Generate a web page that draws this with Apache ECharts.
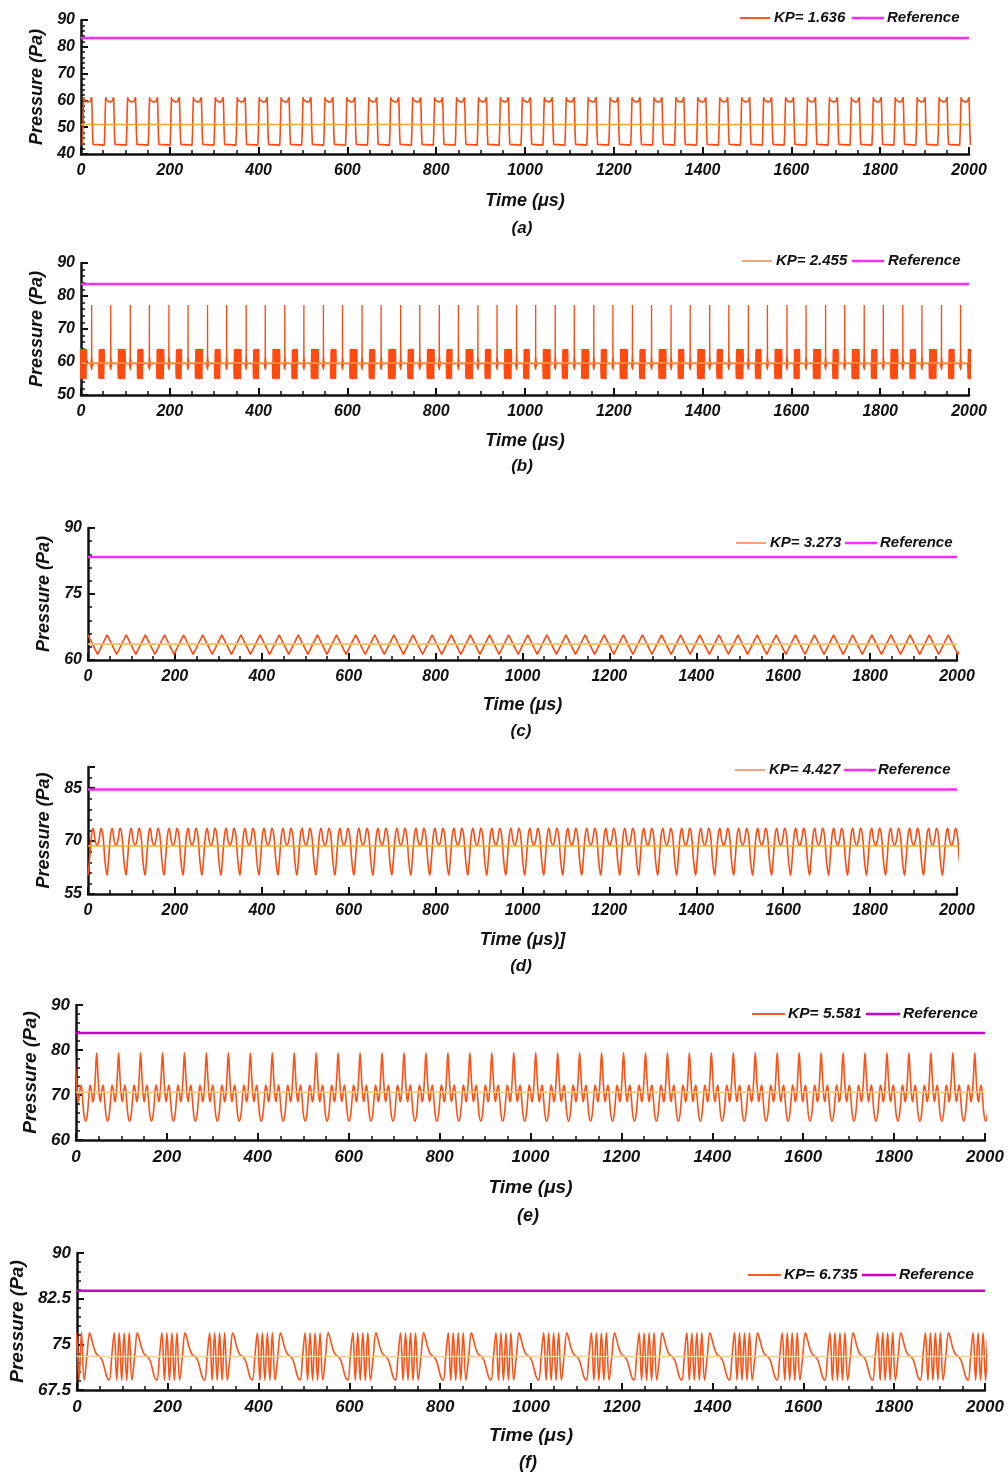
<!DOCTYPE html>
<html><head><meta charset="utf-8">
<script src="https://cdn.jsdelivr.net/npm/echarts@6/dist/echarts.min.js"></script>
<style>html,body{margin:0;padding:0;background:#fff}#c{width:1008px;height:1474px}</style>
</head><body><div id="c"></div>
<script>
// ---------------- DATA ----------------
const kpLabels   = ['KP= 1.636','KP= 2.455','KP= 3.273','KP= 4.427','KP= 5.581','KP= 6.735'];
const refLabel   = 'Reference';
const panelTags  = ['(a)','(b)','(c)','(d)','(e)','(f)'];
const xNames     = ['Time (μs)','Time (μs)','Time (μs)','Time (μs)]','Time (μs)','Time (μs)'];
const refLevels  = [83.3, 83.6, 83.4, 84.6, 83.8, 83.8];
const meanLevels = [51.0, 59.7, 63.6, 68.6, 70.6, 73.0];
const yMins      = [40, 50, 60, 55, 60, 67.5];
const yMaxs      = [90, 90, 90, 91, 90, 90];
const yIntervals = [10, 10, 15, 15, 10, 7.5];
const cyclePeriods = [49.4, 87.0, 44.0, 43.7, 48.3, 105.1];   // µs
const cycleStarts  = [3.0, -4.0, 0.0, 0.0, -2.8, -34.1];      // µs, time of first cycle start

// one read-off cycle of each waveform: [time within cycle (µs), pressure (Pa)]
const cycleA = [[0,43.4],[1.2,48],[2.2,56],[3.2,61.2],[4.5,60.2],[7,59.6],[12,59.4],[17,59.6],[19.8,60.2],[21,61.2],[22,56],[23,48],[24.2,43.6],[26,43.3],[49.4,43.3]];
const blockWideB   = [59.5,55,63.9,54.8,63.8,55,64,54.9,63.9,54.8,63.9,55,63.8,54.8,64,54.9,63.9,55,63.8,54.9,63.9,54.8,63.9,59.5];
const blockNarrowB = [59.5,55,63.8,54.8,63.9,55,64,54.9,63.8,54.8,63.9,55,63.8,54.9,64,54.8,63.9,59.5];
const spikeB = [[-2,59.6],[-1.2,58.2],[-0.7,61.2],[-0.3,57.8],[0,77.3],[0.3,57.6],[0.7,61.4],[1.2,58.4],[2,60.2],[3,59.5]];
const blockTimesB = [[0,17],[43.5,57]];      // start,end of the dense blocks inside one cycle
const spikeTimesB = [28, 71];
const cycleC = [[0,65.7],[22,61.3],[44,65.7]];
const cycleD = [[0,60.3],[3.5,64.5],[8,71.5],[12,73.6],[16.5,70.2],[21,68.8],[25.5,70.4],[30,73.6],[34.5,71.5],[39,64.5],[43.7,60.3]];
const cycleE = [[0,79.4],[3,74],[6,69.6],[8,68.5],[11,70.8],[14,72.2],[17,69.5],[20.5,65.5],[24,64.2],[27.5,65.5],[31,69.5],[34,72.2],[37,70.8],[40,68.5],[42.3,69.6],[45.3,74],[48.3,79.4]];
const cycleF = [[0,69.1],[5.5,73],[11,76.9],[16.5,69.1],[22,76.9],[27.5,69.1],[33,76.9],[38.5,69.1],[44,76.9],[50,69.1],[56,73],[62,76.9],[66,76],[71,74.5],[77,73.4],[84,73],[90,72.3],[95,71],[100,69.6],[105.1,69.1]];

// ---------------- build ----------------
const X_MAX = 2000;
function buildCycleB(){
  const pts = [];
  const pushBlock = (vals, t0, t1) => { const st=(t1-t0)/(vals.length-1); vals.forEach((v,i)=>pts.push([t0+i*st, v])); };
  pushBlock(blockWideB, blockTimesB[0][0], blockTimesB[0][1]);
  spikeB.forEach(p=>pts.push([spikeTimesB[0]+p[0], p[1]]));
  pushBlock(blockNarrowB, blockTimesB[1][0], blockTimesB[1][1]);
  spikeB.forEach(p=>pts.push([spikeTimesB[1]+p[0], p[1]]));
  pts.push([cyclePeriods[1], 59.5]);
  return pts;
}
const cycles = [cycleA, buildCycleB(), cycleC, cycleD, cycleE, cycleF];
function tile(cyc, P, start){
  const out=[];
  for(let k=0; start+k*P <= X_MAX+P; k++){
    cyc.forEach((p,i)=>{ if(k>0 && i===0) return; out.push([start+k*P+p[0], p[1]]); });
  }
  return out;
}

// ---------------- layout ----------------
const F = "'Liberation Sans',Arial,sans-serif";
const grids = [
  {left:81, top:20,  width:888, height:134},
  {left:81, top:263, width:888, height:132},
  {left:88, top:528, width:869, height:132},
  {left:88, top:767, width:869, height:127},
  {left:76, top:1005,width:909, height:135},
  {left:76, top:1253,width:909, height:137}
];
const small = [true,true,true,true,false,false];
const yNameGap = [32,32,31,31,32,47];
const xNameGap = [38,37,36,37,38,36];
// legend layout: [waveLineX1, waveLineX2, kpTextX, refLineX1, refLineX2, refTextX, y]
const legendLayout = [
  [740,770,774,852,884,887,18],
  [742,772,776,852,884,888,261],
  [736,766,770,845,877,880,543],
  [735,765,769,844,876,878,770],
  [752,785,788,866,900,903,1014],
  [748,781,784,862,896,899,1275]
];
const waveColor = ['#ff4a12','#ff4a12','#ff4a12','#ff4a12','#ff5015','#ff5015'];
const legWaveColor = ['#ff5a20','#f7a27a','#f7a27a','#f7a27a','#ff5a20','#ff5a20'];
const refColor = ['#ff2cff','#ff2cff','#ff2cff','#ff2cff','#cc00cc','#cc00cc'];
const meanColor = ['#f0a832','#f59a45','#f5c060','#f0b030','#f7c670','#f5d090'];
const tagPos = [[522,228],[522,466],[521,731],[521,966],[528,1216],[528,1463]];

const txt = (size)=>({fontFamily:F, fontStyle:'italic', fontWeight:'bold', fontSize:size, color:'#111'});
const xAxis=[], yAxis=[], series=[], graphic=[];
for(let i=0;i<6;i++){
  const ls = small[i]?16:17, ns = small[i]?18:19;
  xAxis.push({type:'value', gridIndex:i, min:0, max:X_MAX, interval:200,
    name:xNames[i], nameLocation:'middle', nameGap:xNameGap[i], nameTextStyle:txt(ns),
    axisLine:{lineStyle:{color:'#111', width:2.5}},
    axisTick:{inside:true, length:7, lineStyle:{color:'#111', width:2}},
    minorTick:{show:true, splitNumber:4, length:4, lineStyle:{color:'#111', width:1.5}},
    splitLine:{show:false}, axisLabel:Object.assign({margin:9, formatter:v=>String(v)}, txt(ls))});
  yAxis.push({type:'value', gridIndex:i, min:yMins[i], max:yMaxs[i], interval:yIntervals[i],
    name:'Pressure (Pa)', nameLocation:'middle', nameGap:yNameGap[i], nameRotate:90, nameTextStyle:txt(ns),
    axisLine:{show:true, lineStyle:{color:'#111', width:2.5}},
    axisTick:{show:true, inside:true, length:7, lineStyle:{color:'#111', width:2}},
    minorTick:{show:true, splitNumber:5, length:4, lineStyle:{color:'#111', width:1.5}},
    splitLine:{show:false}, axisLabel:Object.assign({margin:6, showMaxLabel: i===3?false:true, formatter:v=>String(v)}, txt(ls))});
  series.push({name:kpLabels[i], type:'line', xAxisIndex:i, yAxisIndex:i, symbol:'none',
    smooth: (i>=3)?0.4:false, data: tile(cycles[i], cyclePeriods[i], cycleStarts[i]),
    lineStyle:{color:waveColor[i], width:(i===1)?1.3:1.6}, z:3});
  series.push({name:'mean'+i, type:'line', xAxisIndex:i, yAxisIndex:i, symbol:'none',
    data:[[0,meanLevels[i]],[X_MAX,meanLevels[i]]], lineStyle:{color:meanColor[i], width:1.6}, z:4, silent:true});
  series.push({name:refLabel+i, type:'line', xAxisIndex:i, yAxisIndex:i, symbol:'none',
    data:[[0,refLevels[i]],[X_MAX,refLevels[i]]], lineStyle:{color:refColor[i], width:2.5}, z:5});
  // legend (drawn as graphic)
  const L = legendLayout[i], fs = small[i]?15:15.5;
  const font = `italic bold ${fs}px ${F}`;
  graphic.push({type:'line', shape:{x1:L[0],y1:L[6],x2:L[1],y2:L[6]}, style:{stroke:legWaveColor[i], lineWidth:2}});
  graphic.push({type:'text', x:L[2], y:L[6], style:{text:kpLabels[i], verticalAlign:'middle', fill:'#111', font}});
  graphic.push({type:'line', shape:{x1:L[3],y1:L[6],x2:L[4],y2:L[6]}, style:{stroke:refColor[i], lineWidth:2.5}});
  graphic.push({type:'text', x:L[5], y:L[6], style:{text:refLabel, verticalAlign:'middle', fill:'#111', font}});
  graphic.push({type:'text', x:tagPos[i][0], y:tagPos[i][1], style:{text:panelTags[i], align:'center', verticalAlign:'middle', fill:'#111', font:`italic bold ${small[i]?17:18}px ${F}`}});
}
const chart = echarts.init(document.getElementById('c'), null, {renderer:'canvas'});
chart.setOption({animation:false, backgroundColor:'#fff', grid:grids, xAxis, yAxis, series, graphic});
</script></body></html>
